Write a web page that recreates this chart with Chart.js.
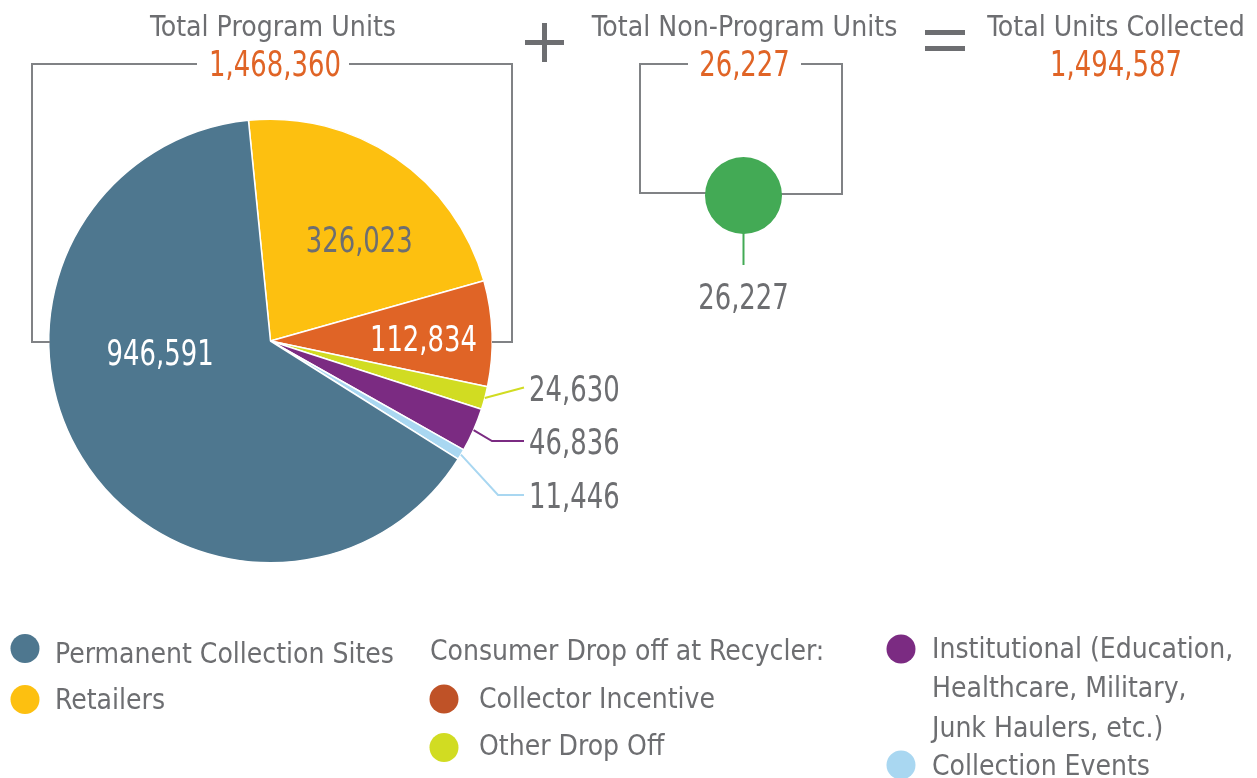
<!DOCTYPE html>
<html>
<head>
<meta charset="utf-8">
<script src="https://cdn.jsdelivr.net/npm/chart.js@4"></script>
<style>
  body { margin: 0; background: #fff; }
  #wrap { position: relative; width: 1257px; height: 778px; }
  #pieChart { position: absolute; left: 0; top: 0; }
  #dotChart { position: absolute; left: 705px; top: 157px; }
</style>
</head>
<body>
<div id="wrap">
  <canvas id="pieChart" width="1257" height="778"></canvas>
  <canvas id="dotChart" width="77" height="77"></canvas>
</div>
<script>
// program units by collection channel (clockwise from the top)
var categories = ['Retailers', 'Collector Incentive', 'Other Drop Off',
  'Institutional (Education, Healthcare, Military, Junk Haulers, etc.)',
  'Collection Events', 'Permanent Collection Sites'];
var unitValues = [326023, 112834, 24630, 46836, 11446, 946591];
var sliceColors = ['#FDC010', '#E06426', '#D1DC22', '#7B2B82', '#A9D7F1', '#4E778F'];

// non-program units
var nonProgramLabels = ['Non-Program Units'];
var nonProgramValues = [26227];
var nonProgramColors = ['#43AA55'];

var GRAY = '#6D6E71';
var LINE = '#808285';
var ORANGE = '#E06426';
var FONT = '"Liberation Sans Narrow", "DejaVu Sans Condensed", "Roboto", sans-serif';

function fmt(n) { return n.toLocaleString('en-US'); }
function sum(a) { return a.reduce(function (s, v) { return s + v; }, 0); }

// y is the middle of the capitals; sq squeezes the glyphs sideways
function text(ctx, str, x, y, size, color, align, sq) {
    ctx.save();
    ctx.font = size + 'px ' + FONT;
    ctx.fillStyle = color;
    ctx.textAlign = align || 'center';
    ctx.textBaseline = 'alphabetic';
    ctx.translate(x, y + size * 0.364);
    ctx.scale(sq || 1, 1);
    ctx.fillText(str, 0, 0);
    ctx.restore();
}
function title(ctx, str, x, y) { text(ctx, str, x, y, 29, GRAY, 'center', 0.97); }
function num(ctx, str, x, y, color, align) { text(ctx, str, x, y, 36, color, align, 0.8); }
function item(ctx, str, x, y) { text(ctx, str, x, y, 28, GRAY, 'left', 1); }

function poly(ctx, pts, color, w) {
    ctx.beginPath();
    ctx.moveTo(pts[0][0], pts[0][1]);
    for (var i = 1; i < pts.length; i++) ctx.lineTo(pts[i][0], pts[i][1]);
    ctx.strokeStyle = color;
    ctx.lineWidth = w;
    ctx.stroke();
}

function dot(ctx, x, y, color) {
    ctx.beginPath();
    ctx.arc(x, y, 14.5, 0, Math.PI * 2);
    ctx.fillStyle = color;
    ctx.fill();
}

// label spots for the big slices: angle (deg from top, clockwise), radius fraction
var insideSpots = { 0: [41, 0.61, GRAY], 1: [88.7, 0.69, '#fff'], 5: [264.5, 0.5, '#fff'] };
// rows for the small slices drawn outside: label y, elbow x
var outsideRows = { 2: [387.5, null], 3: [441, 492], 4: [495, 498] };

var annotations = {
    id: 'annotations',
    afterDraw: function (chart) {
        var ctx = chart.ctx;
        var arcs = chart.getDatasetMeta(0).data;
        var cx = arcs[0].x, cy = arcs[0].y, R = arcs[0].outerRadius;
        var programTotal = sum(unitValues);
        var nonProgramTotal = sum(nonProgramValues);

        ctx.save();

        // headers
        title(ctx, 'Total Program Units', 273, 25.5);
        num(ctx, fmt(programTotal), 275, 62.5, ORANGE);
        title(ctx, 'Total Non-Program Units', 744.5, 25.5);
        num(ctx, fmt(nonProgramTotal), 744.5, 62.5, ORANGE);
        title(ctx, 'Total Units Collected', 1116, 25.5);
        num(ctx, fmt(programTotal + nonProgramTotal), 1116, 62.5, ORANGE);

        // plus and equals
        ctx.fillStyle = GRAY;
        ctx.fillRect(525, 40, 39, 5);
        ctx.fillRect(542, 23, 5, 39);
        ctx.fillRect(925, 30, 40, 5);
        ctx.fillRect(925, 46, 40, 5);

        // brackets
        poly(ctx, [[197, 64], [32, 64], [32, 342], [50, 342]], LINE, 2);
        poly(ctx, [[349, 64], [512, 64], [512, 342], [492, 342]], LINE, 2);
        poly(ctx, [[688, 64], [640, 64], [640, 193], [707, 193]], LINE, 2);
        poly(ctx, [[801, 64], [842, 64], [842, 194], [780, 194]], LINE, 2);

        // non-program leader + value
        poly(ctx, [[743.5, 232], [743.5, 265]], nonProgramColors[0], 2);
        num(ctx, fmt(nonProgramValues[0]), 743.5, 296, GRAY);

        // slice labels
        arcs.forEach(function (arc, i) {
            var mid = (arc.startAngle + arc.endAngle) / 2;
            if (insideSpots[i]) {
                var a = (insideSpots[i][0] - 90) * Math.PI / 180;
                var r = insideSpots[i][1] * R;
                num(ctx, fmt(unitValues[i]), cx + r * Math.cos(a), cy + r * Math.sin(a), insideSpots[i][2]);
            } else if (outsideRows[i]) {
                var sx = cx + R * Math.cos(mid), sy = cy + R * Math.sin(mid);
                var row = outsideRows[i];
                var pts = [[sx, sy]];
                if (row[1] !== null) pts.push([row[1], row[0]]);
                pts.push([524, row[0]]);
                poly(ctx, pts, sliceColors[i], 2);
                num(ctx, fmt(unitValues[i]), 529, row[0], GRAY, 'left');
            }
        });

        // legend
        dot(ctx, 25, 648.5, sliceColors[5]);
        item(ctx, 'Permanent Collection Sites', 55, 653);
        dot(ctx, 25, 699.5, sliceColors[0]);
        item(ctx, categories[0], 55, 699);
        item(ctx, 'Consumer Drop off at Recycler:', 430, 650);
        dot(ctx, 444, 699, '#BF5227');
        item(ctx, categories[1], 479, 698);
        dot(ctx, 444, 747.5, sliceColors[2]);
        item(ctx, categories[2], 479, 745);
        dot(ctx, 901, 649, sliceColors[3]);
        item(ctx, 'Institutional (Education,', 932, 648);
        item(ctx, 'Healthcare, Military,', 932, 687);
        item(ctx, 'Junk Haulers, etc.)', 932, 727);
        dot(ctx, 901, 765, sliceColors[4]);
        item(ctx, categories[4], 932, 765);

        ctx.restore();
    }
};

var pie = new Chart(document.getElementById('pieChart'), {
    type: 'pie',
    data: {
        labels: categories,
        datasets: [{
            data: unitValues,
            backgroundColor: sliceColors,
            borderColor: '#ffffff',
            borderWidth: 1.5
        }]
    },
    options: {
        responsive: false,
        animation: false,
        rotation: -5.7,
        layout: { padding: { left: 48, right: 764, top: 118, bottom: 214 } },
        plugins: { legend: { display: false }, tooltip: { enabled: false } }
    },
    plugins: [annotations]
});

var dotChart = new Chart(document.getElementById('dotChart'), {
    type: 'pie',
    data: {
        labels: nonProgramLabels,
        datasets: [{ data: nonProgramValues, backgroundColor: nonProgramColors, borderWidth: 0 }]
    },
    options: {
        responsive: false,
        animation: false,
        plugins: { legend: { display: false }, tooltip: { enabled: false } }
    }
});
</script>
</body>
</html>
